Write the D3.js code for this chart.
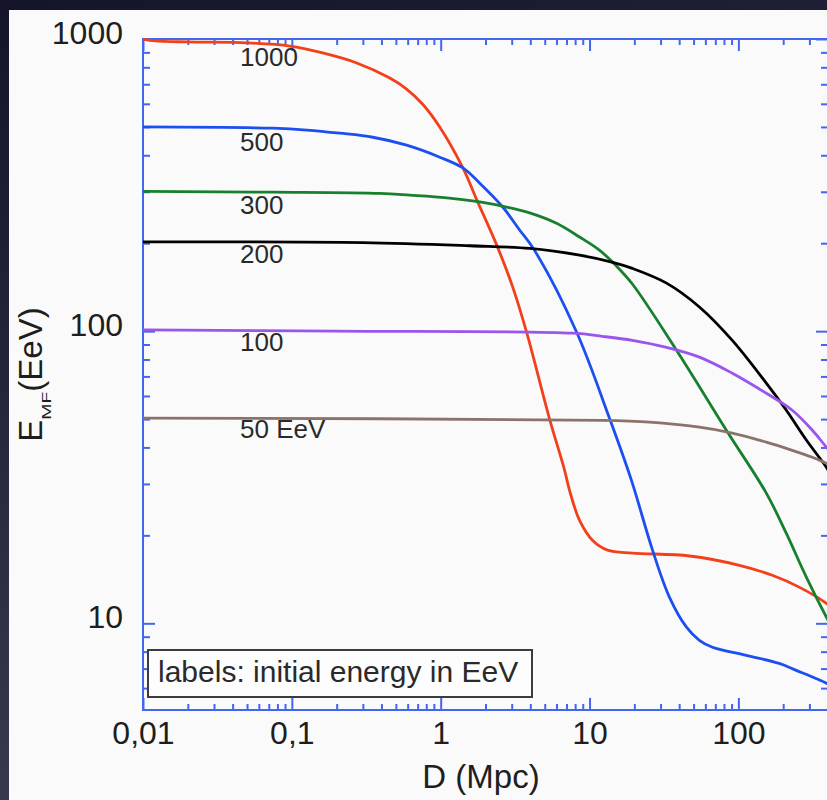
<!DOCTYPE html>
<meta charset="utf-8">
<script src="https://d3js.org/d3.v7.min.js"></script>
<style>
  body { margin: 0; background: #1b1b2e; }
  svg { display: block; }
  text { font-family: "Liberation Sans", Arial, Helvetica, sans-serif; }
</style>
<svg id="chart" width="827" height="800"></svg>
<script>
// distance D (Mpc) and energy E_MF (EeV) for each initial energy
var d1000 = [0.01, 0.012, 0.02, 0.05, 0.097, 0.161, 0.273, 0.455, 0.59, 0.757, 0.985, 1.41, 1.75, 2.38, 3.04, 3.78, 5.39, 6.8, 7.34, 8.57, 10.5, 13.2, 19.4, 46.9, 101.6, 169, 256, 390, 420];
var e1000 = [1000, 985, 977, 970, 946, 896, 828, 735, 674, 598, 500, 362, 281, 197, 142, 99, 50, 33.4, 28.5, 22.5, 19.2, 17.8, 17.4, 17.0, 15.8, 14.6, 13.3, 11.7, 11.3];

var d500 = [0.01, 0.0745, 0.126, 0.21, 0.35, 0.59, 0.985, 1.41, 1.83, 2.61, 3.39, 4.27, 8.18, 13.6, 19.1, 26.5, 34.4, 44.8, 54.7, 67, 113, 188, 245, 390, 420];
var e500 = [500, 495, 488, 476, 461, 433, 394, 362, 321, 266, 222, 189, 99.3, 50.4, 30.9, 17.8, 12.3, 9.7, 8.75, 8.28, 7.77, 7.29, 6.9, 6.24, 6.1];

var d300 = [0.01, 0.0745, 0.39, 0.62, 1.1, 1.83, 2.77, 3.96, 6.0, 8.57, 11.7, 15, 19.4, 38.4, 83, 154, 210, 286, 390, 420];
var e300 = [301, 299, 296, 292, 286, 277, 266, 254, 234, 210, 189, 168, 145, 86, 45.8, 27.9, 20.3, 14.4, 10.5, 9.8];

var d200 = [0.01, 0.3, 1.57, 3.96, 8.57, 14.3, 19.4, 32.9, 54.7, 91, 154, 210, 286, 390, 420];
var e200 = [202, 201, 196, 192, 182, 172, 164, 146, 121, 93, 66.4, 53.6, 42.4, 34.2, 32];

var d100 = [0.01, 0.195, 7.7, 12.2, 19.4, 32.9, 54.7, 91, 154, 230, 314, 390, 420];
var e100 = [101, 100, 98.4, 96, 93, 88, 81.5, 71.8, 61.3, 53.6, 45.8, 40.1, 38.5];

var d50 = [0.01, 12.2, 25.3, 54.7, 91, 154, 230, 314, 390, 420];
var e50 = [50.4, 49.5, 48.8, 46.9, 44.8, 41.7, 39.1, 37.0, 35.3, 34.8];

var curveNames = ["1000", "500", "300", "200", "100", "50 EeV"];
var xTickValues = [0.01, 0.1, 1, 10, 100];
var yTickValues = [10, 100, 1000];

var series = [
  {d: d1000, e: e1000, color: "#f2401a"},
  {d: d500,  e: e500,  color: "#1c4ff0"},
  {d: d300,  e: e300,  color: "#17802e"},
  {d: d200,  e: e200,  color: "#000000"},
  {d: d100,  e: e100,  color: "#9a55ec"},
  {d: d50,   e: e50,   color: "#8c736a"}
];
var labelDy = [27, 24, 23, 21, 21, 20];

var svg = d3.select("#chart");

// background: dark frame + light panel
var grad = svg.append("defs").append("linearGradient")
    .attr("id", "bg").attr("x1", 0).attr("y1", 0).attr("x2", 0.3).attr("y2", 1);
grad.append("stop").attr("offset", "0%").attr("stop-color", "#14142a");
grad.append("stop").attr("offset", "100%").attr("stop-color", "#3a3c52");
svg.append("rect").attr("width", 827).attr("height", 800).attr("fill", "url(#bg)");
svg.append("rect").attr("x", 9).attr("y", 10).attr("width", 818).attr("height", 790).attr("fill", "#fafafa");

var pLeft = 143, pRight = 828, pTop = 39, pBottom = 710;
var x = d3.scaleLog().domain([0.01, 400]).range([pLeft, pRight]);
var y = d3.scaleLog().domain([5.05, 1000]).range([pBottom, pTop]);

var axisColor = "#4466ef";
var fmt = function(d) { return String(d).replace(".", ","); };

var minorX = x.ticks().filter(function(d) { return xTickValues.indexOf(d) < 0; });
var minorY = y.ticks().filter(function(d) { return yTickValues.indexOf(d) < 0; });

function styleAxis(g) {
  g.select(".domain").remove();
  g.selectAll(".tick line").attr("stroke", axisColor).attr("stroke-width", 2);
  g.selectAll(".tick text").attr("fill", "#1e1e1e").style("font-size", "32px")
    .style("font-family", "'Liberation Sans', Arial, sans-serif");
}

// bottom
svg.append("g").attr("transform", "translate(0," + pBottom + ")")
  .call(d3.axisBottom(x).tickValues(xTickValues).tickSize(-12).tickPadding(11).tickFormat(fmt))
  .call(styleAxis);
svg.append("g").attr("transform", "translate(0," + pBottom + ")")
  .call(d3.axisBottom(x).tickValues(minorX).tickSize(-6).tickFormat(""))
  .call(styleAxis);
// top
svg.append("g").attr("transform", "translate(0," + pTop + ")")
  .call(d3.axisTop(x).tickValues(xTickValues).tickSize(-12).tickFormat(""))
  .call(styleAxis);
svg.append("g").attr("transform", "translate(0," + pTop + ")")
  .call(d3.axisTop(x).tickValues(minorX).tickSize(-6).tickFormat(""))
  .call(styleAxis);
// left
svg.append("g").attr("transform", "translate(" + pLeft + ",0)")
  .call(d3.axisLeft(y).tickValues(yTickValues).tickSize(-12).tickPadding(20).tickFormat(d3.format("d")))
  .call(styleAxis)
  .selectAll(".tick text").attr("dy", "0.13em");
svg.append("g").attr("transform", "translate(" + pLeft + ",0)")
  .call(d3.axisLeft(y).tickValues(minorY).tickSize(-7).tickFormat(""))
  .call(styleAxis);
// right
svg.append("g").attr("transform", "translate(" + pRight + ",0)")
  .call(d3.axisRight(y).tickValues(yTickValues).tickSize(-12).tickFormat(""))
  .call(styleAxis);
svg.append("g").attr("transform", "translate(" + pRight + ",0)")
  .call(d3.axisRight(y).tickValues(minorY).tickSize(-7).tickFormat(""))
  .call(styleAxis);

// frame
svg.append("rect").attr("x", pLeft).attr("y", pTop)
  .attr("width", pRight - pLeft).attr("height", pBottom - pTop)
  .attr("fill", "none").attr("stroke", axisColor).attr("stroke-width", 2);

// curves
svg.append("clipPath").attr("id", "clip").append("rect")
  .attr("x", pLeft).attr("y", pTop - 6).attr("width", pRight - pLeft).attr("height", pBottom - pTop + 6);

var line = d3.line()
  .x(function(p) { return x(p[0]); })
  .y(function(p) { return y(p[1]); })
  .curve(d3.curveCatmullRom.alpha(0.5));

svg.append("g").attr("clip-path", "url(#clip)")
  .selectAll("path").data(series).enter().append("path")
    .attr("d", function(s) { return line(d3.zip(s.d, s.e)); })
    .attr("fill", "none")
    .attr("stroke", function(s) { return s.color; })
    .attr("stroke-width", 2.8)
    .attr("stroke-linejoin", "round");

// curve labels
svg.append("g").selectAll("text").data(series).enter().append("text")
  .attr("x", 240)
  .attr("y", function(s, i) { return y(s.e[0]) + labelDy[i]; })
  .text(function(s, i) { return curveNames[i]; })
  .style("font-size", "26px")
  .attr("fill", "#2a2a2a");

// note box
svg.append("rect").attr("x", 148).attr("y", 650).attr("width", 384).attr("height", 47)
  .attr("fill", "#fdfdfd").attr("stroke", "#3c3c3c").attr("stroke-width", 2);
svg.append("text").attr("x", 158).attr("y", 682)
  .text("labels: initial energy in EeV")
  .style("font-size", "30px").attr("fill", "#2a2a2a");

// axis titles
svg.append("text").attr("x", 481).attr("y", 788)
  .attr("text-anchor", "middle")
  .text("D (Mpc)")
  .style("font-size", "33px").attr("fill", "#1e1e1e");

var yt = svg.append("text")
  .attr("transform", "translate(42," + ((pTop + pBottom) / 2) + ") rotate(-90)")
  .attr("text-anchor", "middle")
  .style("font-size", "33px").attr("fill", "#1e1e1e");
yt.append("tspan").text("E");
yt.append("tspan").attr("dy", 9).style("font-size", "13px")
  .attr("textLength", 28).attr("lengthAdjust", "spacingAndGlyphs").text("MF");
yt.append("tspan").attr("dy", -9).text("(EeV)");
</script>
